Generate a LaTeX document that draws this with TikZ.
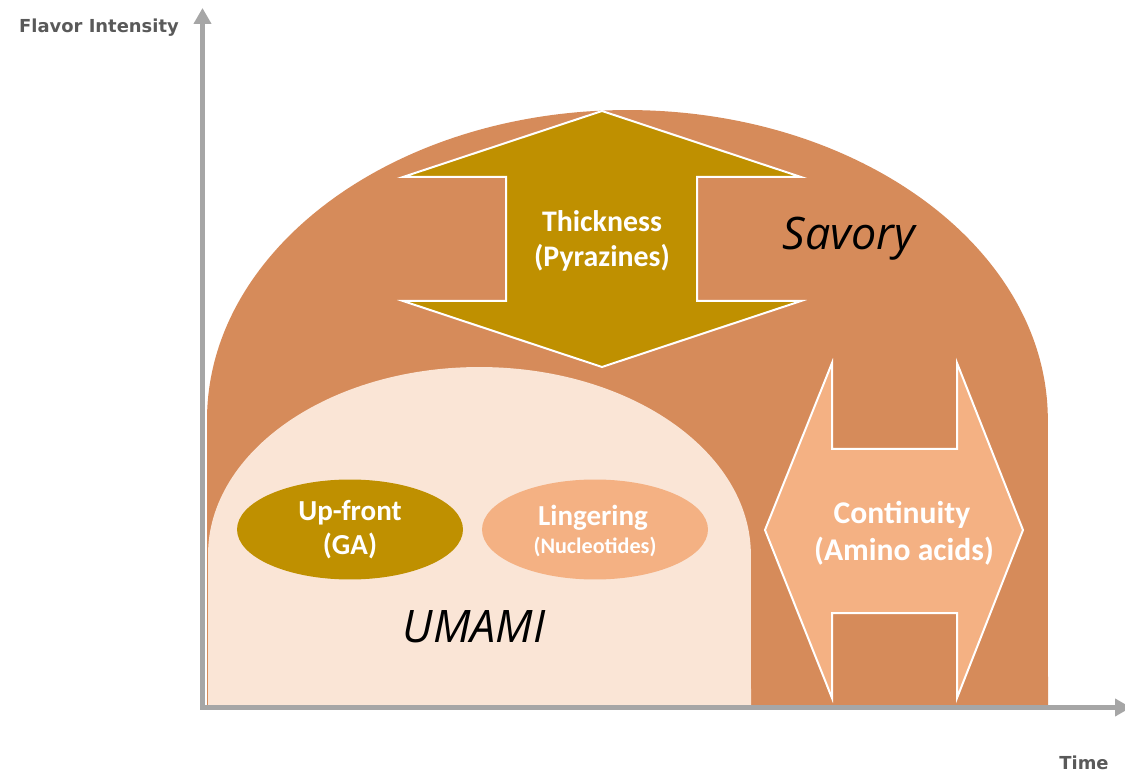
\documentclass[tikz,border=0pt]{standalone}
\usepackage{fontspec}
\setmainfont{Carlito}
\newfontfamily\axisfont{DejaVu Sans}
\newfontfamily\bigit{Open Sans}
\usetikzlibrary{arrows.meta,shapes.geometric}
\definecolor{savory}{RGB}{214,139,90}
\definecolor{umami}{RGB}{250,229,214}
\definecolor{gold}{RGB}{191,144,0}
\definecolor{peach}{RGB}{244,177,131}
\definecolor{axisgray}{RGB}{166,166,166}
\definecolor{labgray}{RGB}{89,89,89}
\tikzset{
  axisline/.style={draw=axisgray,line width=0.09cm,-{Triangle[width=0.34cm,length=0.32cm]}},
  axislabel/.style={inner sep=0,anchor=base,text=labgray,font=\axisfont\bfseries\fontsize{10.2}{12}\selectfont},
  bigarrow/.style={draw=white,line width=0.04cm,line join=miter},
  whitelab/.style={inner sep=0,anchor=base,text=white,font=\bfseries\fontsize{17}{20}\selectfont},
  smalllab/.style={inner sep=0,anchor=base,text=white,font=\bfseries\fontsize{12.6}{15}\selectfont},
  bigitlab/.style={inner sep=0,anchor=base,text=black,font=\bigit\itshape\fontsize{25.5}{30}\selectfont},
  blob/.style={ellipse,draw=none,minimum width=4.52cm,minimum height=2.0cm,inner sep=0}
}
\begin{document}
\begin{tikzpicture}[x=0.02cm,y=0.02cm]
\useasboundingbox (0,0) rectangle (1125,771);
% Savory dome
\fill[savory] (207,66) -- (207,351) arc[start angle=180,end angle=0,x radius=8.41cm,y radius=6.2cm] -- (1048,66) -- cycle;
% Umami dome
\fill[umami] (208,66) -- (208,216) arc[start angle=180,end angle=0,x radius=5.43cm,y radius=3.76cm] -- (751,66) -- cycle;
% Thickness arrow
\filldraw[bigarrow,fill=gold] (602,660) -- (801,594) -- (697,594) -- (697,470) -- (801,470) -- (602,404) -- (403,470) -- (506,470) -- (506,594) -- (403,594) -- cycle;
% Continuity arrow
\filldraw[bigarrow,fill=peach] (765,241) -- (832,408) -- (832,322) -- (957,322) -- (957,408) -- (1023,241) -- (957,73) -- (957,158) -- (832,158) -- (832,73) -- cycle;
% Ellipses
\node[blob,fill=gold] (upfront) at (350,241.5) {};
\node[blob,fill=peach] (linger) at (595,241.5) {};
% Texts
\node[whitelab] (thick1) at (602,539.3) {Thickness};
\node[whitelab] (thick2) at (602,504.3) {(Pyrazines)};
\node[bigitlab] (savorylab) at (849,521) {Savory};
\node[whitelab,font=\bfseries\fontsize{18}{21}\selectfont] (cont1) at (902,248) {Continuity};
\node[whitelab,font=\bfseries\fontsize{18}{21}\selectfont] (cont2) at (904,210.3) {(Amino acids)};
\node[whitelab,font=\bfseries\fontsize{16.5}{20}\selectfont] (up1) at (350,250.3) {Up-front};
\node[whitelab,font=\bfseries\fontsize{16.5}{20}\selectfont] (up2) at (350,216) {(GA)};
\node[whitelab,font=\bfseries\fontsize{16.5}{20}\selectfont] (ling1) at (593,245) {Lingering};
\node[smalllab] (ling2) at (595,217) {(Nucleotides)};
\node[bigitlab] (umamilab) at (474,129) {UMAMI};
% Axes
\coordinate (origin) at (202.5,63.5);
\coordinate (ytip) at (202.5,763);
\coordinate (xtip) at (1131,63.5);
\draw[axisline] (202.5,66) -- (ytip);
\draw[axisline] (200,63.5) -- (xtip);
\node[axislabel] (ylab) at (99,738.7) {Flavor Intensity};
\node[axislabel] (xlab) at (1084,2) {Time};
\end{tikzpicture}
\end{document}
